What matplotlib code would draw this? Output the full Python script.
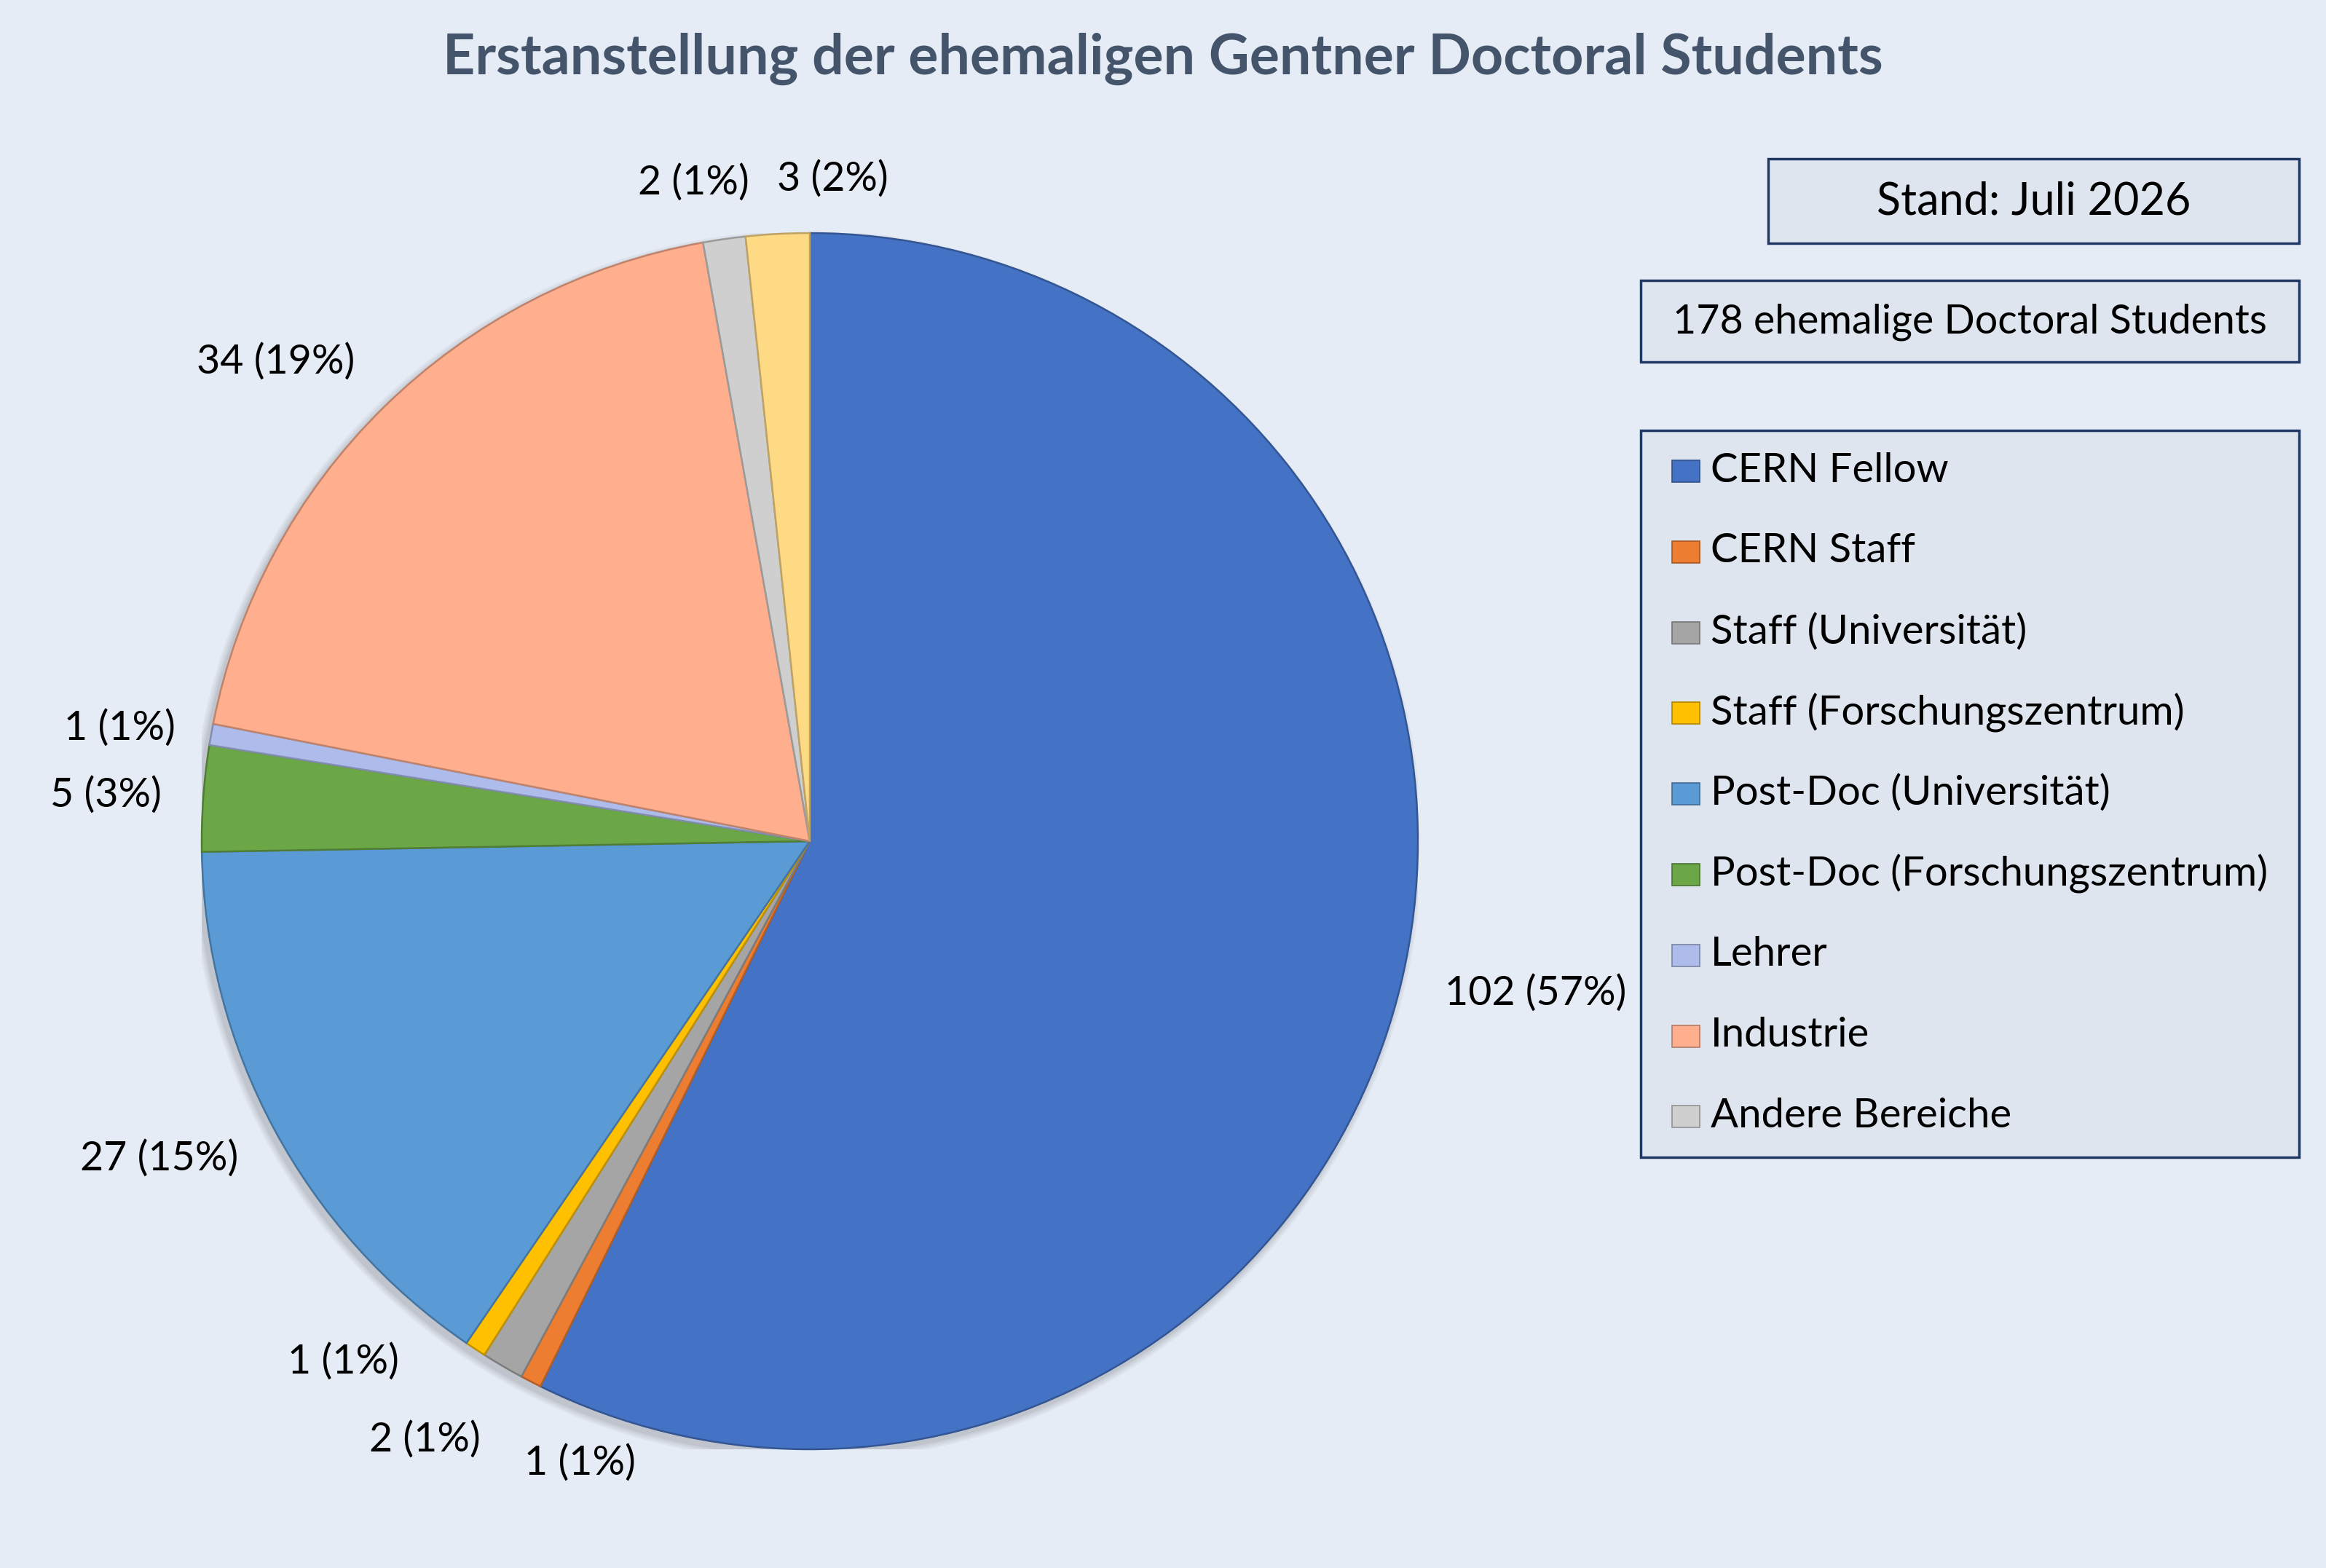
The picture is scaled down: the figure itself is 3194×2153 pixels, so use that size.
import matplotlib
matplotlib.use("Agg")
import matplotlib.pyplot as plt
from matplotlib.patches import Rectangle, Circle
import numpy as np

plt.rcParams['font.family'] = ['Lato', 'DejaVu Sans']

# ---- data ----
categories = ["CERN Fellow", "CERN Staff", "Staff (Universität)", "Staff (Forschungszentrum)",
              "Post-Doc (Universität)", "Post-Doc (Forschungszentrum)", "Lehrer", "Industrie",
              "Andere Bereiche", "Unbekannt"]
values = [102, 1, 2, 1, 27, 5, 1, 34, 2, 3]
percent_labels = ["57%", "1%", "1%", "1%", "15%", "3%", "1%", "19%", "1%", "2%"]
legend_count = 9  # last category not shown in legend
title = "Erstanstellung der ehemaligen Gentner Doctoral Students"
stand_text = "Stand: Juli 2026"
total_text = "178 ehemalige Doctoral Students"

# ---- styles ----
colors = ["#4472C4", "#ED7D31", "#A5A5A5", "#FFC000", "#5B9BD5", "#6BA746",
          "#AEBCEB", "#FFAE8E", "#CFCFCF", "#FFDA85"]
label_dist = [1.22, 1.09, 1.17, 1.15, 1.19, 1.16, 1.15, 1.18, 1.10, 1.09]
label_angle_shift = [1.3, 7.0, -2.4, -8.5, -2.3, 0.3, 0.8, 3.6, 1.9, -5.0]
bg = "#E6ECF6"
boxface = "#DEE5EF"
boxedge = "#1F3864"

W, H = 3194, 2153
fig = plt.figure(figsize=(W / 100, H / 100), dpi=100, facecolor=bg)

cx, cy, R = 1112, 1155, 835
ax = fig.add_axes([(cx - R) / W, (H - cy - R) / H, 2 * R / W, 2 * R / H])
ax.axis("off")

def darker(c, f=0.8):
    rgb = np.array(matplotlib.colors.to_rgb(c))
    return tuple(rgb * f)

wedges, _ = ax.pie(values, colors=colors, startangle=90, counterclock=False, radius=1.0,
                   wedgeprops=dict(linewidth=1.8))
for w, c in zip(wedges, colors):
    w.set_edgecolor(darker(c, 0.75))
    w.set_zorder(2)

# soft shadow
for i, a in enumerate([0.05, 0.05, 0.06, 0.08]):
    ax.add_patch(Circle((-0.006, -0.008), 1.0 + 0.012 - i * 0.003, color="#404040",
                        alpha=a, lw=0, zorder=0))

ax.set_xlim(-1, 1)
ax.set_ylim(-1, 1)
ax.set_aspect("auto")

for w, v, p, d, s in zip(wedges, values, percent_labels, label_dist, label_angle_shift):
    ang = np.deg2rad((w.theta1 + w.theta2) / 2 + s)
    ax.text(d * np.cos(ang), d * np.sin(ang), f"{v} ({p})", ha="center", va="center",
            fontsize=40, color="black", clip_on=False)

# title
fig.text(1597 / W, 1 - 81 / H, title, ha="center", va="center", fontsize=55.5,
         fontweight="bold", color="#44546A")

# boxes
def fig_rect(x0, y0, x1, y1):
    fig.patches.append(Rectangle((x0 / W, 1 - y1 / H), (x1 - x0) / W, (y1 - y0) / H,
                                 transform=fig.transFigure, facecolor=boxface,
                                 edgecolor=boxedge, linewidth=2.5, zorder=1))

fig_rect(2428, 218, 3157, 334)
fig.text((2428 + 3157) / 2 / W, 1 - 277 / H, stand_text, ha="center", va="center",
         fontsize=44, color="black")
fig_rect(2253, 385, 3157, 497)
fig.text((2253 + 3157) / 2 / W, 1 - 442 / H, total_text, ha="center", va="center",
         fontsize=40, color="black")
fig_rect(2253, 591, 3157, 1589)

for i in range(legend_count):
    yc = 646 + i * 110.8
    fig.patches.append(Rectangle((2296 / W, 1 - (yc + 16) / H), 38 / W, 30 / H,
                                 transform=fig.transFigure, facecolor=colors[i],
                                 edgecolor=darker(colors[i], 0.7), linewidth=1.2, zorder=2))
    fig.text(2349 / W, 1 - yc / H, categories[i], ha="left", va="center",
             fontsize=40.5, color="black")

fig.savefig("out.png", dpi=100, facecolor=bg)
